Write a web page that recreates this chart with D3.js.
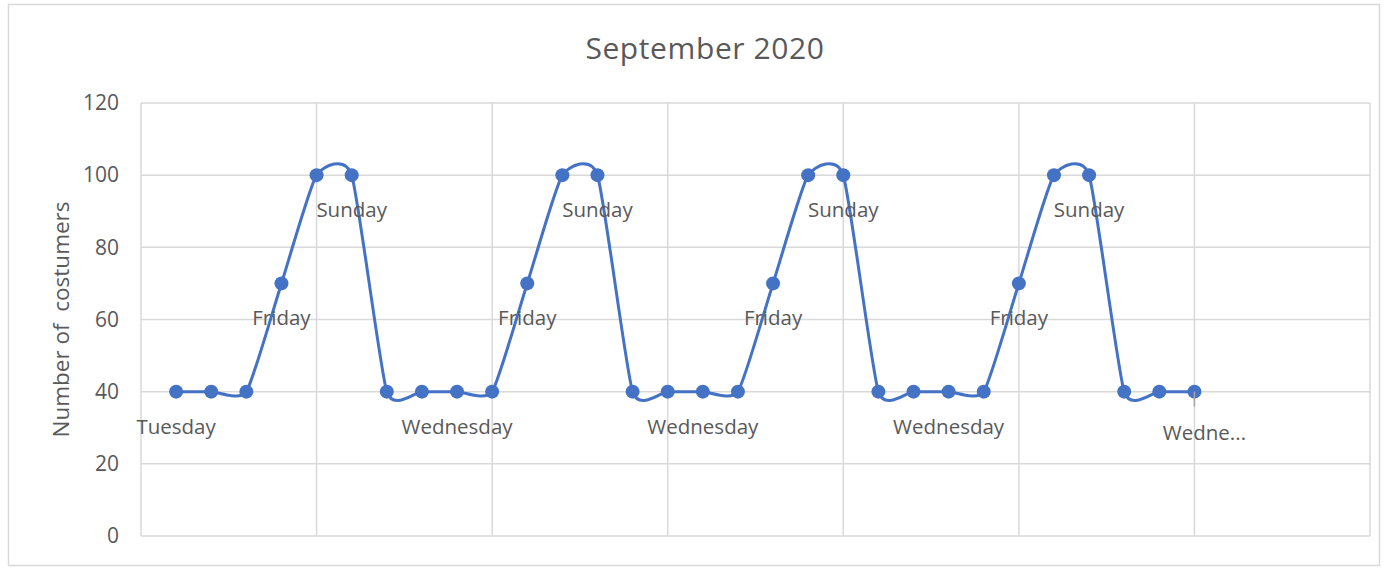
<!DOCTYPE html>
<html>
<head>
<meta charset="utf-8">
<script src="https://cdn.jsdelivr.net/npm/d3@7"></script>
<style>
  body { margin: 0; background: #fff; }
  text { font-family: "Open Sans", "Noto Sans", sans-serif; fill: #595959; }
</style>
</head>
<body>
<svg id="chart"></svg>
<script>
// Data: days of September 2020 and customer counts
const days = d3.range(1, 31);
const customers = [40, 40, 40, 70, 100, 100, 40, 40, 40, 40, 70, 100, 100, 40, 40,
                   40, 40, 70, 100, 100, 40, 40, 40, 40, 70, 100, 100, 40, 40, 40];
// Data labels shown by the chart (empty = hidden)
const dayLabels = ["Tuesday", "", "", "Friday", "", "Sunday", "", "", "Wednesday", "",
                   "Friday", "", "Sunday", "", "", "Wednesday", "", "Friday", "", "Sunday",
                   "", "", "Wednesday", "", "Friday", "", "Sunday", "", "", "Wedne..."];
const yTicks = [0, 20, 40, 60, 80, 100, 120];
const xTicks = [0, 5, 10, 15, 20, 25, 30, 35];

const W = 1384, H = 568;
const margin = { top: 103, right: 14, bottom: 32, left: 141 };

const svg = d3.select("#chart").attr("width", W).attr("height", H);

// outer chart border
svg.append("rect")
    .attr("x", 8.5).attr("y", 4.5)
    .attr("width", 1371).attr("height", 561)
    .attr("fill", "none").attr("stroke", "#d9d9d9").attr("stroke-width", 1.5);

const x = d3.scaleLinear().domain([0, 35]).range([margin.left, W - margin.right]);
const y = d3.scaleLinear().domain([0, 120]).range([H - margin.bottom, margin.top]);

// gridlines
svg.append("g").selectAll("line").data(yTicks).join("line")
    .attr("x1", x(0)).attr("x2", x(35))
    .attr("y1", d => y(d)).attr("y2", d => y(d))
    .attr("stroke", "#d9d9d9").attr("stroke-width", 1.5);
svg.append("g").selectAll("line").data(xTicks).join("line")
    .attr("x1", d => x(d)).attr("x2", d => x(d))
    .attr("y1", y(0)).attr("y2", y(120))
    .attr("stroke", "#d9d9d9").attr("stroke-width", 1.5);

// y axis labels
const yAxis = svg.append("g")
    .attr("transform", `translate(${margin.left},0)`)
    .call(d3.axisLeft(y).tickValues(yTicks).tickSize(0).tickPadding(22));
yAxis.select(".domain").remove();
yAxis.selectAll("text").style("font-size", "21px").attr("fill", "#595959");

// title
svg.append("text")
    .attr("x", 705).attr("y", 59)
    .attr("text-anchor", "middle")
    .style("font-size", "30px")
    .style("letter-spacing", "0.6px")
    .text("September 2020");

// y axis title
svg.append("text")
    .attr("transform", `translate(69,${y(60)}) rotate(-90)`)
    .attr("text-anchor", "middle")
    .style("font-size", "22.5px")
    .style("white-space", "pre")
    .text("Number of  costumers");

const pts = days.map((d, i) => ({ day: d, value: customers[i], label: dayLabels[i] }));

// smoothed line
const line = d3.line()
    .x(d => x(d.day))
    .y(d => y(d.value))
    .curve(d3.curveCardinal.tension(0.45));

svg.append("path")
    .datum(pts)
    .attr("d", line)
    .attr("fill", "none")
    .attr("stroke", "#4472c4")
    .attr("stroke-width", 3);

svg.append("g").selectAll("circle").data(pts).join("circle")
    .attr("cx", d => x(d.day))
    .attr("cy", d => y(d.value))
    .attr("r", 7)
    .attr("fill", "#4472c4");

// data labels, below points
const lastDay = days[days.length - 1];
svg.append("line")
    .attr("x1", x(lastDay)).attr("x2", x(lastDay))
    .attr("y1", y(customers[customers.length - 1]))
    .attr("y2", y(customers[customers.length - 1]) + 15)
    .attr("stroke", "#a6a6a6").attr("stroke-width", 1.5);

svg.append("g").selectAll("text").data(pts.filter(d => d.label)).join("text")
    .attr("x", d => x(d.day) + (d.day === lastDay ? 10 : 0))
    .attr("y", d => y(d.value) + (d.day === lastDay ? 48 : 42))
    .attr("text-anchor", "middle")
    .style("font-size", "20.5px")
    .text(d => d.label);
</script>
</body>
</html>
